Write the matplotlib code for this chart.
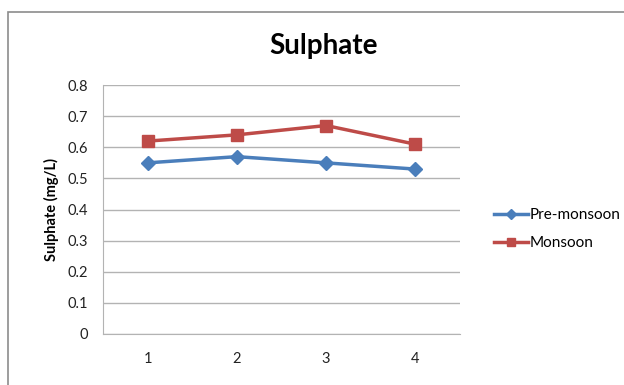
import matplotlib.pyplot as plt
from matplotlib.patches import Rectangle

plt.rcParams['font.family'] = ['Lato', 'DejaVu Sans']

stations = [1, 2, 3, 4]
pre_monsoon = [0.55, 0.57, 0.55, 0.53]
monsoon = [0.62, 0.64, 0.67, 0.61]
yticks = [0, 0.1, 0.2, 0.3, 0.4, 0.5, 0.6, 0.7, 0.8]

fig = plt.figure(figsize=(6.24, 3.85), dpi=100)
ax = fig.add_axes([0.165, 0.1325, 0.572, 0.6465])

ax.plot(stations, pre_monsoon, color='#4a7ebb', lw=2.5, marker='D', ms=7,
        label='Pre-monsoon')
ax.plot(stations, monsoon, color='#be4b48', lw=2.5, marker='s', ms=8,
        label='Monsoon')

ax.set_xlim(0.5, 4.5)
ax.set_ylim(0, 0.8)
ax.set_yticks(yticks)
ax.set_yticklabels([f'{v:g}' for v in yticks])
ax.set_xticks(stations)
ax.yaxis.grid(True, color='#b3b3b3', lw=1)
ax.set_axisbelow(True)
for side in ['top', 'right']:
    ax.spines[side].set_visible(False)
for side in ['left', 'bottom']:
    ax.spines[side].set_color('#b3b3b3')
ax.tick_params(length=0, labelsize=10.5, colors='#222222')
ax.tick_params(axis='x', pad=13)
ax.tick_params(axis='y', pad=11)

ax.set_ylabel('Sulphate (mg/L)', fontsize=10.5, fontweight='bold', labelpad=6)
fig.text(0.518, 0.88, 'Sulphate', ha='center', va='center',
         fontsize=20, fontweight='bold')

ax.legend(loc='center left', bbox_to_anchor=(0.77, 0.405),
          bbox_transform=fig.transFigure, frameon=False, fontsize=11,
          handlelength=2.2, handletextpad=0.1, labelspacing=0.9,
          markerscale=0.75)

# chart frame
fig.patches.append(Rectangle((8 / 624, -0.1), 1.2, 1.1 - 12 / 385,
                             transform=fig.transFigure, fill=False,
                             edgecolor='#8c8c8c', lw=1.2))

fig.savefig('out.png', dpi=100)
